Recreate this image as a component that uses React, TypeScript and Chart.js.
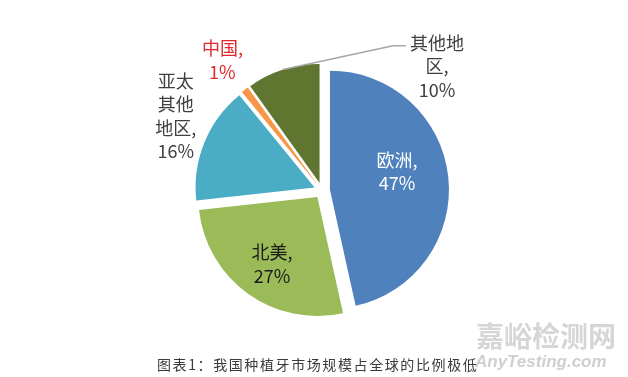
import React, { useEffect, useRef } from "react";
import { Chart, registerables } from "chart.js";

Chart.register(...registerables);

// ---- data ----
const categories = ["欧洲", "北美", "亚太其他地区", "中国", "其他地区"];
const shares = [47, 27, 16, 1, 10];
const sliceColors = ["#4F81BD", "#9BBB59", "#4BACC6", "#F79646", "#5F7530"];
// label styling / placement (relative to each slice)
const wrapChars = [2, 2, 2, 2, 3];
const labelColors = ["#FFFFFF", "#1A1A1A", "#404040", "#E3262D", "#404040"];
const labelAngleFrac = [0.447, 0.484, 0.585, 0.5, 2.27];
const labelRadialFrac = [0.583, 0.68, 1.31, 1.31, 1.39];
const captionText = "图表1：我国种植牙市场规模占全球的比例极低";

const EXPLODE = 8;
const LINE_H = 23.5;
const FONT = '18px "Noto Sans CJK SC", "Noto Sans", sans-serif';

function buildLines(cat: string, v: number, n: number): string[] {
  const chunks: string[] = [];
  for (let i = 0; i < cat.length; i += n) chunks.push(cat.slice(i, i + n));
  chunks[chunks.length - 1] += ",";
  chunks.push(`${v}%`);
  return chunks;
}

function sliceBase(arc: any) {
  const h = (arc.startAngle + arc.endAngle) / 2;
  return { x: arc.x + Math.cos(h) * EXPLODE, y: arc.y + Math.sin(h) * EXPLODE };
}

function pointOn(arc: any, frac: number, rf: number) {
  const b = sliceBase(arc);
  const a = arc.startAngle + frac * (arc.endAngle - arc.startAngle);
  const r = rf * arc.outerRadius;
  return { x: b.x + Math.cos(a) * r, y: b.y + Math.sin(a) * r };
}

const explodePlugin = {
  id: "explodeAndLabels",
  beforeDatasetDraw(chart: any, args: any) {
    const ctx = chart.ctx;
    args.meta.data.forEach((arc: any) => {
      const h = (arc.startAngle + arc.endAngle) / 2;
      ctx.save();
      ctx.translate(Math.cos(h) * EXPLODE, Math.sin(h) * EXPLODE);
      arc.draw(ctx);
      ctx.restore();
    });
    return false;
  },
  afterDraw(chart: any) {
    const ctx = chart.ctx;
    const meta = chart.getDatasetMeta(0);
    // leader line for the last slice
    const last = meta.data[4];
    if (last) {
      const p0 = pointOn(last, 0.5, 1.0);
      const p1 = pointOn(last, 1.79, 1.306);
      ctx.save();
      ctx.strokeStyle = "#A6A6A6";
      ctx.lineWidth = 1.5;
      ctx.beginPath();
      ctx.moveTo(p0.x, p0.y);
      ctx.lineTo(p1.x, p1.y);
      ctx.lineTo(p1.x + 13, p1.y);
      ctx.stroke();
      ctx.restore();
    }
    meta.data.forEach((arc: any, i: number) => {
      const lines = buildLines(categories[i], shares[i], wrapChars[i]);
      const p = pointOn(arc, labelAngleFrac[i], labelRadialFrac[i]);
      ctx.save();
      ctx.font = FONT;
      ctx.fillStyle = labelColors[i];
      ctx.textAlign = "center";
      ctx.textBaseline = "middle";
      const y0 = p.y - ((lines.length - 1) * LINE_H) / 2;
      lines.forEach((ln, k) => ctx.fillText(ln, p.x, y0 + k * LINE_H));
      ctx.restore();
    });
  },
};

export default function App() {
  const ref = useRef<HTMLCanvasElement | null>(null);
  useEffect(() => {
    if (!ref.current) return;
    const chart = new Chart(ref.current, {
      type: "pie",
      data: {
        labels: categories,
        datasets: [
          {
            data: shares,
            backgroundColor: sliceColors,
            borderWidth: 0,
          },
        ],
      },
      options: {
        animation: false,
        responsive: true,
        maintainAspectRatio: false,
        radius: 119,
        layout: { padding: { left: 16, right: 0, top: 4, bottom: 0 } },
        plugins: {
          legend: { display: false },
          tooltip: { enabled: false },
        },
      } as any,
      plugins: [explodePlugin as any],
    });
    return () => chart.destroy();
  }, []);

  return (
    <div style={{ position: "absolute", left: 0, top: 0, width: 628, height: 377, background: "#fff", overflow: "hidden" }}>
      <canvas ref={ref} />
      <div
        style={{
          position: "absolute",
          left: 476,
          top: 320,
          fontFamily: '"Noto Sans CJK SC", sans-serif',
          fontWeight: 700,
          fontSize: 28,
          lineHeight: "30px",
          color: "#D6D6D6",
          whiteSpace: "nowrap",
        }}
      >
        嘉峪检测网
      </div>
      <div
        style={{
          position: "absolute",
          left: 475,
          top: 352,
          fontFamily: '"Liberation Sans", Arial, sans-serif',
          fontWeight: 700,
          fontStyle: "italic",
          fontSize: 17,
          lineHeight: "20px",
          color: "#CFCFCF",
          whiteSpace: "nowrap",
        }}
      >
        AnyTesting.com
      </div>
      <div
        style={{
          position: "absolute",
          left: 157,
          top: 355,
          fontFamily: '"Noto Sans CJK SC", sans-serif',
          fontSize: 14,
          letterSpacing: "1.6px",
          lineHeight: "18px",
          color: "#3A3A3A",
          whiteSpace: "nowrap",
        }}
      >
        {captionText}
      </div>
    </div>
  );
}
